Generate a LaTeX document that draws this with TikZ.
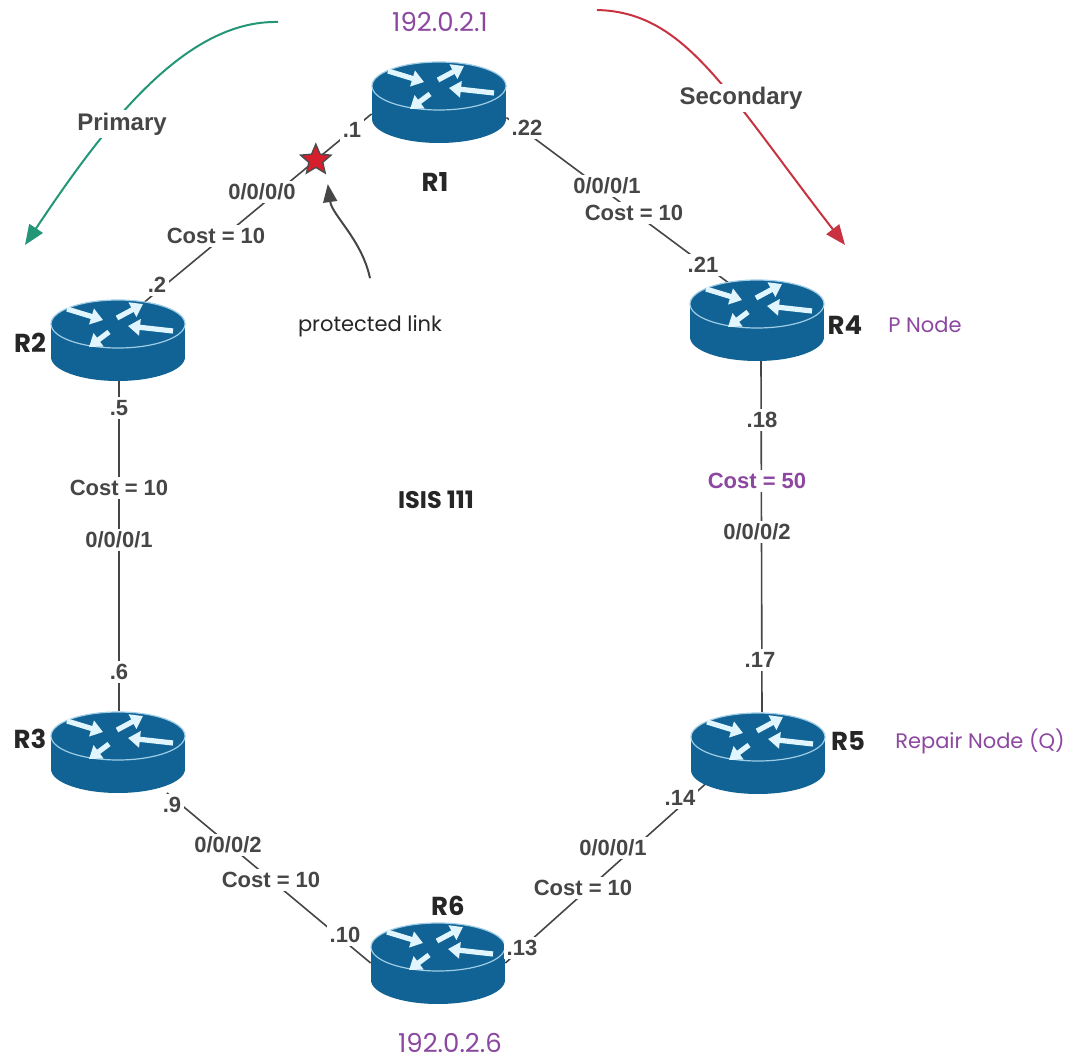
\documentclass[tikz,border=0pt]{standalone}
\usepackage{fontspec}
\setmainfont{Liberation Sans}
\newfontfamily\handfont{Poppins}
\usetikzlibrary{shapes.geometric,arrows.meta}

\definecolor{routerblue}{RGB}{16,99,148}
\definecolor{routeredge}{RGB}{160,205,230}
\definecolor{ipurple}{RGB}{140,72,160}
\definecolor{linkgray}{RGB}{70,70,70}
\definecolor{primgreen}{RGB}{35,150,120}
\definecolor{secred}{RGB}{200,50,65}
\definecolor{cutred}{RGB}{215,30,45}

\tikzset{
  routerbox/.style={rectangle, minimum width=67pt, minimum height=40.5pt, inner sep=0pt},
  router/.pic={
    \fill[routerblue] (0,17) ellipse [x radius=67, y radius=24];
    \fill[routerblue] (-67,-16) rectangle (67,17);
    \fill[routerblue] (0,-16) ellipse [x radius=67, y radius=24];
    \draw[routeredge, line width=0.6pt] (0,-16) ellipse [x radius=67, y radius=24];
    \foreach \ax/\ay/\bx/\by in {-51/-31/-15/-20, -1/-22/25/-36, 55/-9/10/-14, -9/-8/-29/7}
      \draw[white!88!cyan, line width=2.6pt, -{Triangle[length=6pt,width=8pt]}] (\ax,\ay) -- (\bx,\by);
  }
}

\begin{document}
\begin{tikzpicture}[x=0.5pt, y=-0.5pt,
    link/.style={draw=linkgray, line width=0.8pt},
    port/.style={font=\bfseries\fontsize{11}{13}\selectfont, text=linkgray, fill=white, inner sep=1.5pt},
    hand/.style={font=\handfont\bfseries\fontsize{13}{15}\selectfont, text=black!85},
    ip/.style={font=\handfont\fontsize{13}{15}\selectfont, text=ipurple},
    role/.style={font=\handfont\fontsize{10.5}{12}\selectfont, text=ipurple},
    note/.style={font=\handfont\fontsize{10.5}{12}\selectfont, text=black!85},
    path arrow/.style={line width=1pt, -{Triangle[length=10pt,width=8pt]}},
    cut/.style={star, star points=5, star point ratio=2.2, minimum size=16pt, inner sep=0pt, fill=cutred, draw=black!70, line width=0.7pt}]
    \useasboundingbox (0,0) rectangle (1072,1064);

    \node[routerbox] (r1) at (439,102) {};
    \node[routerbox] (r2) at (118,340) {};
    \node[routerbox] (r3) at (118,752) {};
    \node[routerbox] (r4) at (757,320) {};
    \node[routerbox] (r5) at (758,753) {};
    \node[routerbox] (r6) at (438,963) {};

    % links
    \draw[link] (r1.190) -- node[cut, pos=.22] (cut) {} ([yshift=8pt]r2.center);
    \draw[link] (r1.-13) -- ([yshift=8pt]r4.center);
    \draw[link] ([xshift=.5pt]r2.south) -- ([xshift=.5pt]r3.north);
    \draw[link] ([xshift=2pt]r4.south) -- ([xshift=2pt]r5.north);
    \draw[link] (r3) -- (r6.west);
    \draw[link] (r6.east) -- ([yshift=8pt]r5.center);

    \foreach \r in {r1,r2,r3,r4,r5,r6} \pic at (\r) {router};

    % router names and addresses
    \node[hand] (n1) at (435,182) {R1}; \node[hand] (n2) at (30,343) {R2};
    \node[hand] (n3) at (30,739) {R3};  \node[hand] (n4) at (845,325) {R4};
    \node[hand] (n5) at (848,741) {R5}; \node[hand] (n6) at (448,906) {R6};
    \node[ip] (ip1) at (440,22) {192.0.2.1};
    \node[ip] (ip6) at (450,1043) {192.0.2.6};
    \node[role] (pnode) at (925,325) {P Node};
    \node[role] (qnode) at (980,741) {Repair Node (Q)};
    \node[hand, font=\handfont\bfseries\fontsize{12}{14}\selectfont] (isis) at (436,500) {ISIS 111};

    % ports and costs
    \node[port] (a1) at (352,130) {.1}; \node[port] (a2) at (262,192) {0/0/0/0};
    \node[port] (a3) at (216,236) {Cost = 10}; \node[port] (a4) at (157,285) {.2};
    \node[port] (b1) at (527,128) {.22}; \node[port] (b2) at (607,186) {0/0/0/1};
    \node[port] (b3) at (634,213) {Cost = 10}; \node[port] (b4) at (703,265) {.21};
    \node[port] (c1) at (119,408) {.5}; \node[port] (c2) at (119,488) {Cost = 10};
    \node[port] (c3) at (119,540) {0/0/0/1}; \node[port] (c4) at (119,672) {.6};
    \node[port] (d1) at (762,420) {.18}; \node[port, text=ipurple] (d2) at (757,481) {Cost = 50};
    \node[port] (d3) at (757,532) {0/0/0/2}; \node[port] (d4) at (760,660) {.17};
    \node[port] (e1) at (172,805) {.9}; \node[port] (e2) at (228,845) {0/0/0/2};
    \node[port] (e3) at (271,880) {Cost = 10}; \node[port] (e4) at (345,935) {.10};
    \node[port] (f1) at (522,948) {.13}; \node[port] (f2) at (583,888) {Cost = 10};
    \node[port] (f3) at (613,848) {0/0/0/1}; \node[port] (f4) at (680,798) {.14};

    % protected link
    \node[note] (plink) at (370,326) {protected link};
    \draw[linkgray, line width=1pt, -{Triangle[length=9pt,width=7pt]}] ([yshift=15pt]plink.north)
        .. controls (362,240) and (332,215) .. ([shift={(6pt,-12pt)}]cut.center);

    % primary and secondary paths
    \coordinate (pstart) at (278,22); \coordinate (pend) at (25,245);
    \coordinate (sstart) at (597,10); \coordinate (send) at (845,245);
    \draw[path arrow, primgreen] (pstart) .. controls (185,20) and (105,125) .. (pend);
    \draw[path arrow, secred] (sstart) .. controls (685,12) and (725,90) .. (send);
    \node[port, font=\bfseries\fontsize{12}{14}\selectfont] (prim) at (122,124) {Primary};
    \node[port, font=\bfseries\fontsize{12}{14}\selectfont] (sec) at (741,98) {Secondary};
\end{tikzpicture}
\end{document}
